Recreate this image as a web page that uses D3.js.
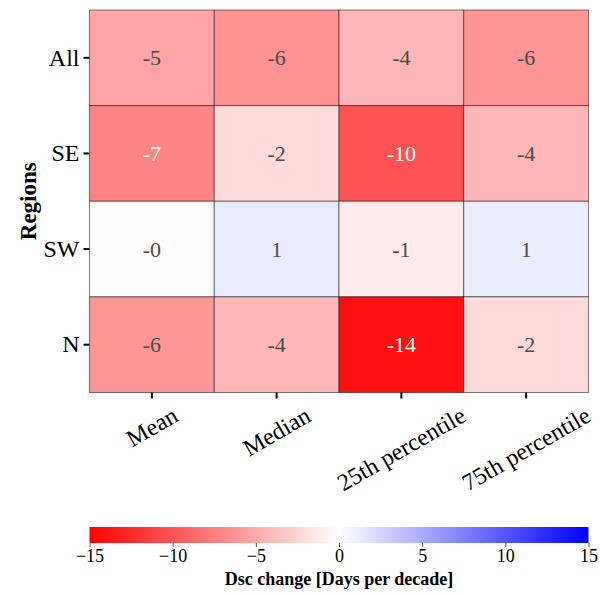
<!DOCTYPE html>
<html>
<head>
<meta charset="utf-8">
<script src="https://cdn.jsdelivr.net/npm/d3@7"></script>
<style>
  body { margin: 0; background: #fff; }
  svg { font-family: "Liberation Serif", "DejaVu Serif", serif; }
</style>
</head>
<body>
<svg id="heat" width="600" height="593"></svg>
<script>
const regions = ['All', 'SE', 'SW', 'N'];
const stats = ['Mean', 'Median', '25th percentile', '75th percentile'];
// rows follow regions, columns follow stats
const allVals = [-5.3, -6.4, -4.3, -6.2];
const seVals = [-7.2, -2.2, -10.1, -4.3];
const swVals = [-0.1, 1.2, -1.2, 1.1];
const nVals = [-6.2, -4.3, -14.1, -2.2];
const colorTicks = [-15, -10, -5, 0, 5, 10, 15];

(function () {
    const rows = [allVals, seVals, swVals, nVals];
    const cells = [];
    rows.forEach((r, i) => r.forEach((v, j) => cells.push({ region: regions[i], stat: stats[j], value: v })));

    const svg = d3.select('#heat');
    const x0 = 89.5, x1 = 588.5, y0 = 10, y1 = 392.5;

    const xScale = d3.scaleBand().domain(stats).range([x0, x1]);
    const yScale = d3.scaleBand().domain(regions).range([y0, y1]);
    const color = d3.scaleLinear().domain([-15, 0, 15]).range(['#ff0000', '#ffffff', '#0000ff']);

    const fmt = v => (v < 0 ? '-' : '') + Math.abs(Math.round(v));

    // cells
    svg.append('g')
        .selectAll('rect')
        .data(cells)
        .enter()
        .append('rect')
        .attr('x', d => xScale(d.stat))
        .attr('y', d => yScale(d.region))
        .attr('width', xScale.bandwidth())
        .attr('height', yScale.bandwidth())
        .attr('fill', d => color(d.value))
        .attr('stroke', 'rgba(0,0,0,0.5)')
        .attr('stroke-width', 1);

    svg.append('g')
        .selectAll('text')
        .data(cells)
        .enter()
        .append('text')
        .attr('x', d => xScale(d.stat) + xScale.bandwidth() / 2)
        .attr('y', d => yScale(d.region) + yScale.bandwidth() / 2)
        .attr('text-anchor', 'middle')
        .attr('dominant-baseline', 'central')
        .attr('font-size', 22)
        .attr('fill', d => d.value < -6.8 ? '#ffffff' : '#4a4a4a')
        .text(d => fmt(d.value));

    // y axis
    const yAxis = svg.append('g')
        .attr('transform', `translate(${x0},0)`)
        .call(d3.axisLeft(yScale).tickSize(6).tickPadding(4));
    yAxis.select('.domain').remove();
    yAxis.selectAll('.tick line').attr('stroke', '#000').attr('stroke-width', 2);
    yAxis.selectAll('.tick text')
        .attr('font-size', 24)
        .attr('font-family', '"Liberation Serif", serif')
        .attr('fill', '#000');

    svg.append('text')
        .attr('transform', `translate(36, ${(y0 + y1) / 2}) rotate(-90)`)
        .attr('text-anchor', 'middle')
        .attr('font-size', 23)
        .attr('font-weight', 'bold')
        .text('Regions');

    // x axis
    const xAxis = svg.append('g')
        .attr('transform', `translate(0,${y1})`)
        .call(d3.axisBottom(xScale).tickSize(6).tickFormat(''));
    xAxis.select('.domain').remove();
    xAxis.selectAll('.tick line').attr('stroke', '#000').attr('stroke-width', 2);

    const xFont = 24;
    svg.append('g')
        .selectAll('text')
        .data(stats)
        .enter()
        .append('text')
        .attr('font-size', xFont)
        .attr('text-anchor', 'middle')
        .attr('dominant-baseline', 'central')
        .text(d => d)
        .attr('transform', function (d) {
            const w = this.getComputedTextLength();
            const h = xFont * 0.75;
            const boxH = w * 0.5 + h * Math.cos(Math.PI / 6);
            const cx = xScale(d) + xScale.bandwidth() / 2;
            return `translate(${cx},${y1 + 13 + boxH / 2}) rotate(-30)`;
        });

    // colorbar
    const cbTop = 527, cbH = 16;
    const cbScale = d3.scaleLinear().domain([-15, 15]).range([x0, x1]);
    const grad = svg.append('defs').append('linearGradient').attr('id', 'cbgrad');
    d3.range(0, 1.0001, 0.05).forEach(t => {
        grad.append('stop')
            .attr('offset', t)
            .attr('stop-color', color(-15 + 30 * t));
    });
    svg.append('rect')
        .attr('x', x0)
        .attr('y', cbTop)
        .attr('width', x1 - x0)
        .attr('height', cbH)
        .attr('fill', 'url(#cbgrad)');

    const cbAxis = svg.append('g')
        .attr('transform', `translate(0,${cbTop + cbH})`)
        .call(d3.axisBottom(cbScale).tickValues(colorTicks).tickSize(4).tickPadding(2)
            .tickFormat(d => (d < 0 ? '\u2212' : '') + Math.abs(d)));
    cbAxis.select('.domain').remove();
    cbAxis.selectAll('.tick line').attr('stroke', '#555');
    cbAxis.selectAll('.tick text')
        .attr('font-size', 18)
        .attr('font-family', '"Liberation Serif", serif')
        .attr('fill', '#000');

    svg.append('text')
        .attr('x', (x0 + x1) / 2)
        .attr('y', 585)
        .attr('text-anchor', 'middle')
        .attr('font-size', 18)
        .attr('font-weight', 'bold')
        .text('Dsc change [Days per decade]');
})();
</script>
</body>
</html>
